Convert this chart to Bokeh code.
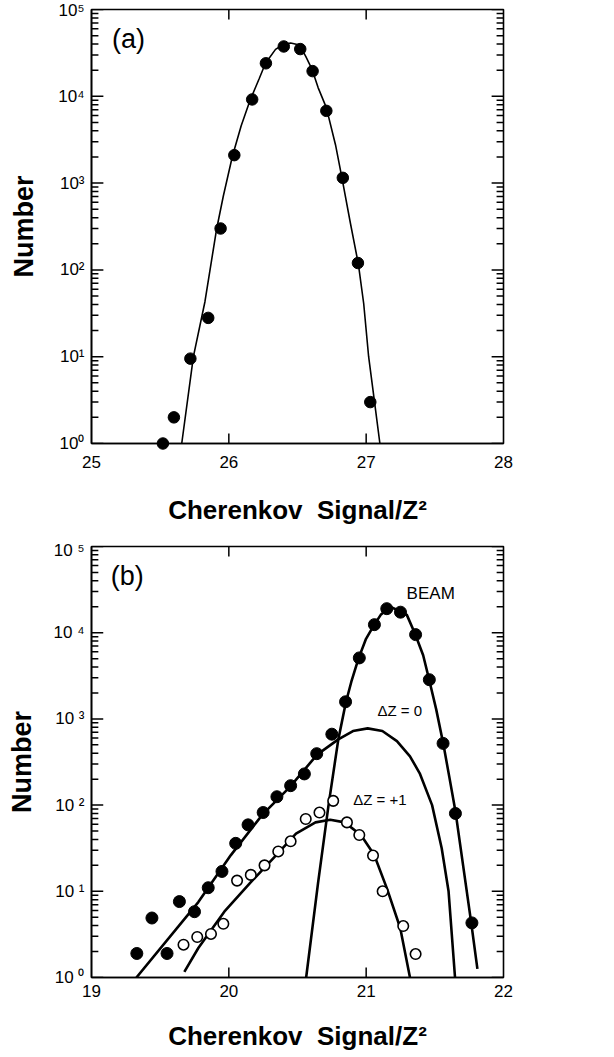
import math

from bokeh.plotting import figure
from bokeh.models import FixedTicker, Label
from bokeh.layouts import column
from bokeh.embed import file_html
from bokeh.resources import INLINE

# ---- panel (a): measured distribution and fit ----
signal_a = [25.52, 25.60, 25.72, 25.85, 25.94, 26.04, 26.17, 26.27,
            26.40, 26.52, 26.61, 26.71, 26.83, 26.94, 27.03]
count_a = [1, 2, 9.5, 28, 300, 2100, 9200, 24000,
           37500, 35000, 19500, 6800, 1150, 120, 3]

fit_x_a = [25.657, 25.742, 25.826, 25.91, 25.96, 26.026, 26.09, 26.156,
           26.22, 26.267, 26.34, 26.40, 26.45, 26.515, 26.56, 26.606,
           26.65, 26.71, 26.777, 26.825, 26.885, 26.943, 26.982, 27.018,
           27.061, 27.10]
fit_y_a = [1, 10, 43, 290, 710, 2040, 4570, 9100,
           15800, 24000, 34700, 39800, 41200, 38900, 28800, 20400,
           12600, 7400, 2750, 1120, 347, 117, 41, 10,
           3, 1]

# ---- panel (b): beam, no charge change and charge-changed fragments ----
signal_b = [19.33, 19.44, 19.55, 19.64, 19.75, 19.85, 19.95, 20.05, 20.14,
            20.25, 20.35, 20.45, 20.55, 20.64, 20.75, 20.85, 20.95, 21.06,
            21.15, 21.25, 21.36, 21.46, 21.56, 21.65, 21.77]
count_b = [1.9, 4.9, 1.9, 7.6, 5.8, 11, 17, 36, 59,
           82, 125, 168, 230, 395, 665, 1580, 5100, 12400,
           19000, 17300, 9500, 2850, 520, 80, 4.3]

signal_dz1 = [19.67, 19.77, 19.87, 19.96, 20.06, 20.16, 20.26, 20.36, 20.45,
              20.56, 20.66, 20.76, 20.86, 20.95, 21.05, 21.12, 21.27, 21.36]
count_dz1 = [2.4, 2.95, 3.2, 4.2, 13.3, 15.5, 20, 29, 38,
             69, 82, 112, 63, 45, 26, 10, 3.95, 1.87]

beam_x = [20.563, 20.65, 20.726, 20.797, 20.852, 20.892, 20.944, 20.999,
          21.058, 21.106, 21.153, 21.19, 21.248, 21.296, 21.355, 21.415,
          21.457, 21.51, 21.563, 21.605, 21.651, 21.765, 21.81]
beam_y = [1, 12.6, 100, 575, 1550, 2700, 5000, 8500,
          12300, 16100, 18600, 19500, 17800, 16100, 9770, 5470,
          2920, 1290, 500, 214, 83, 4.3, 1.26]

dz0_x = [19.327, 19.778, 20.015, 20.245, 20.447, 20.643, 20.797, 20.904,
         21.011, 21.118, 21.224, 21.319, 21.39, 21.48, 21.55, 21.60, 21.647]
dz0_y = [1, 7.5, 26.3, 77.6, 164, 385, 578, 723,
         776, 723, 552, 368, 234, 100, 31.6, 10, 1]

dz1_x = [19.676, 19.778, 19.967, 20.157, 20.347, 20.489, 20.631, 20.738,
         20.844, 20.963, 21.058, 21.153, 21.248, 21.319]
dz1_y = [1.16, 2.2, 5.8, 12.6, 26.5, 46.6, 63, 67.6,
         63, 44.7, 26.5, 10.6, 3.75, 1]

decades = [1, 10, 100, 1000, 10000, 100000]
minor_marks = [m * d for d in decades[:-1] for m in range(2, 10)]

FONT = "Liberation Sans"
TITLE_X = "Cherenkov\u00a0 Signal/Z\u00b2"
GAP = math.nan


def style_axes(p, xticks, ylabels, xlab_standoff, xtitle_standoff, ytitle_standoff):
    xa = p.xaxis[0]
    xa.ticker = FixedTicker(ticks=list(xticks))
    xa.axis_label = TITLE_X
    xa.axis_label_text_font = FONT
    xa.axis_label_text_font_style = "bold"
    xa.axis_label_text_font_size = "26px"
    xa.axis_label_standoff = xtitle_standoff
    xa.major_label_standoff = xlab_standoff
    xa.major_label_text_font = FONT
    xa.major_label_text_font_size = "17px"

    ya = p.yaxis[0]
    ya.ticker = FixedTicker(ticks=list(decades))
    ya.major_label_overrides = {float(d): s for d, s in zip(decades, ylabels)}
    ya.axis_label = "Number"
    ya.axis_label_text_font = FONT
    ya.axis_label_text_font_style = "bold"
    ya.axis_label_text_font_size = "27px"
    ya.axis_label_standoff = ytitle_standoff
    ya.major_label_standoff = 7
    ya.major_label_text_font = FONT
    ya.major_label_text_font_size = "17px"

    for ax in (xa, ya):
        ax.axis_line_width = 1.6
        ax.axis_line_color = "black"
        ax.major_tick_line_color = None
        ax.minor_tick_line_color = None
        ax.major_tick_out = 0
        ax.minor_tick_out = 0
        ax.major_label_text_color = "black"
        ax.axis_label_text_color = "black"

    p.xgrid.visible = False
    p.ygrid.visible = False
    p.outline_line_color = "black"
    p.outline_line_width = 1.6


def inward_ticks(p, xr, xticks, fw, fh, major=12, minor=7):
    """Tick marks pointing into the frame on all four sides, drawn as one
    broken polyline (NaN separates the marks)."""
    x0, x1 = xr
    dx_maj = (x1 - x0) * major / fw
    dx_min = (x1 - x0) * minor / fw
    up = 10 ** (5 * 10 / fh)
    down = 10 ** (5 - 5 * 10 / fh)
    tx, ty = [], []
    for t in xticks:
        if x0 < t < x1:
            tx += [t, t, GAP, t, t, GAP]
            ty += [1, up, GAP, 1e5, down, GAP]
    for d in decades:
        tx += [x0, x0 + dx_maj, GAP, x1, x1 - dx_maj, GAP]
        ty += [d, d, GAP, d, d, GAP]
    for d in minor_marks:
        tx += [x0, x0 + dx_min, GAP, x1, x1 - dx_min, GAP]
        ty += [d, d, GAP, d, d, GAP]
    p.line(tx, ty, line_color="black", line_width=1.5)


def tag(p, x, y, text, size, style="normal"):
    p.add_layout(Label(x=x, y=y, text=text, text_font=FONT,
                       text_font_size=size, text_font_style=style,
                       text_align="center", text_baseline="middle",
                       text_color="black"))


# panel (a)
pa = figure(width=614, height=540, x_range=(25, 28), y_range=(1, 1e5),
            y_axis_type="log", output_backend="svg", toolbar_location=None,
            min_border_left=87, min_border_right=111,
            min_border_top=9, min_border_bottom=97)
style_axes(pa, [25, 26, 27, 28],
           ["10\u2070", "10\u00b9", "10\u00b2", "10\u00b3", "10\u2074", "10\u2075"],
           xlab_standoff=12, xtitle_standoff=24, ytitle_standoff=16)
inward_ticks(pa, (25, 28), [25, 26, 27, 28], 416, 434)
pa.line(fit_x_a, fit_y_a, line_color="black", line_width=1.6)
dots_a = pa.scatter(signal_a, count_a, size=11.5, color="black")
dots_a.level = "overlay"
tag(pa, 25.27, 46000, "(a)", "27px")

# panel (b)
pb = figure(width=614, height=517, x_range=(19, 22), y_range=(1, 1e5),
            y_axis_type="log", output_backend="svg", toolbar_location=None,
            min_border_left=91, min_border_right=102,
            min_border_top=6, min_border_bottom=80)
style_axes(pb, [19, 20, 21, 22],
           ["10 \u2070", "10 \u00b9", "10 \u00b2", "10 \u00b3", "10 \u2074", "10 \u2075"],
           xlab_standoff=7, xtitle_standoff=21, ytitle_standoff=14)
inward_ticks(pb, (19, 22), [19, 20, 21, 22], 421, 431)
pb.line(dz0_x, dz0_y, line_color="black", line_width=2.6)
pb.line(dz1_x, dz1_y, line_color="black", line_width=2.6)
pb.line(beam_x, beam_y, line_color="black", line_width=2.6)
pb.scatter(signal_b, count_b, size=12, color="black")
pb.scatter(signal_dz1, count_dz1, size=10.5, fill_color="white",
           line_color="black", line_width=1.6)
tag(pb, 19.26, 45000, "(b)", "27px")
tag(pb, 21.47, 28500, "BEAM", "17px")
tag(pb, 21.245, 1250, "\u0394Z = 0", "15px")
tag(pb, 21.10, 116, "\u0394Z = +1", "15px")

layout = column(pa, pb, spacing=0)
open("out.html", "w").write(file_html(layout, INLINE))
